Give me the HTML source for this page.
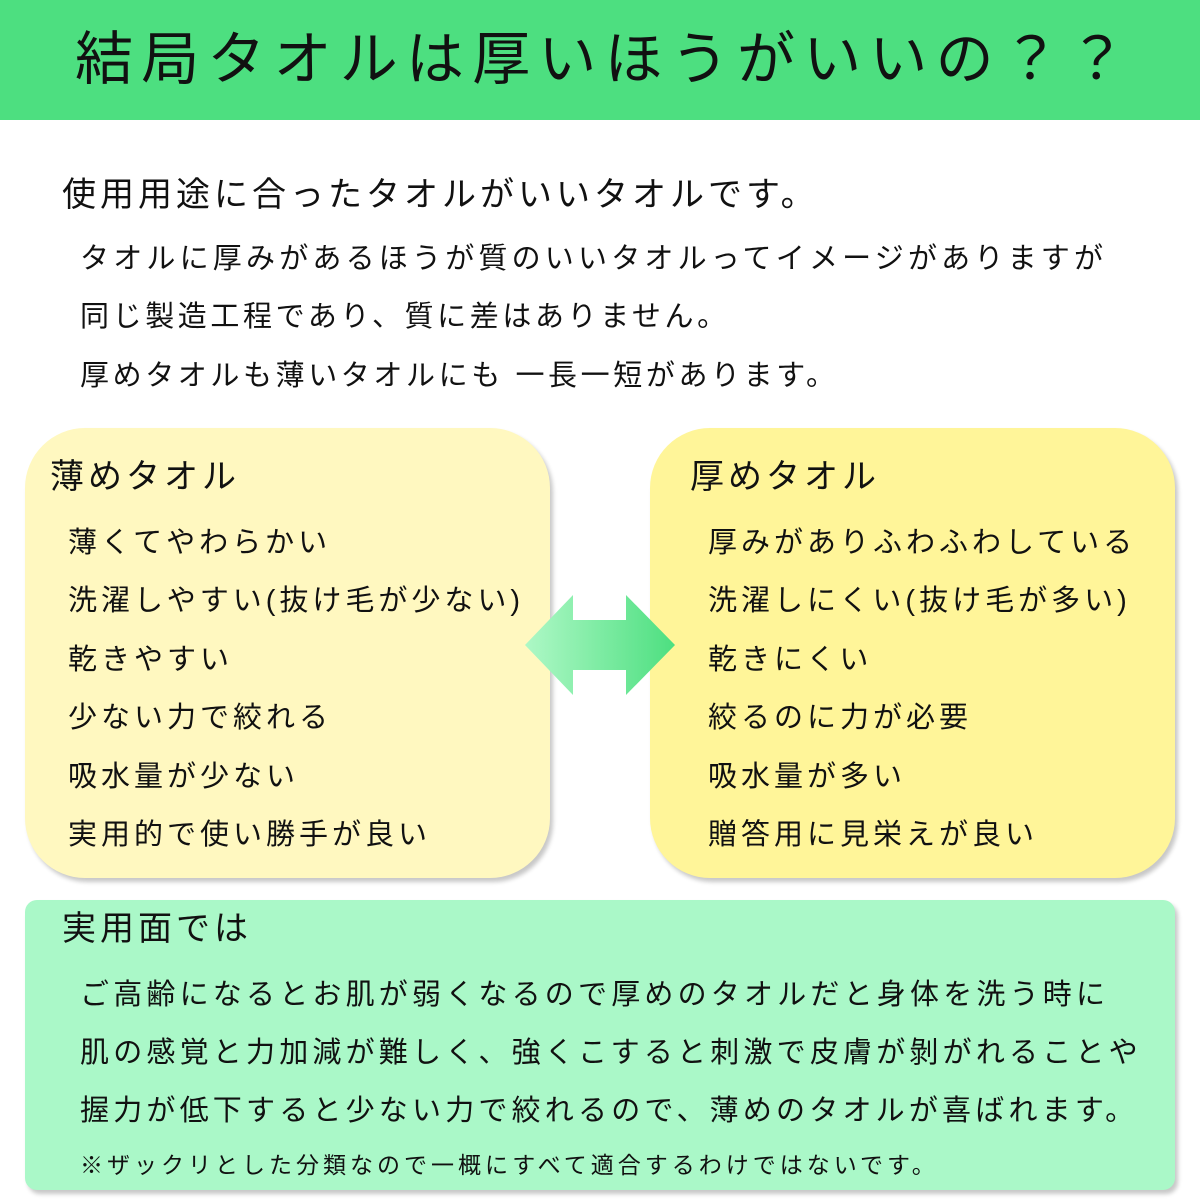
<!DOCTYPE html>
<html><head><meta charset="utf-8"><style>
*{margin:0;padding:0}
body{width:1200px;height:1200px;position:relative;background:#fff;font-family:"Liberation Sans","Noto Sans CJK JP",sans-serif;color:#111;overflow:hidden}
.t{position:absolute;white-space:nowrap;line-height:1}
.box{position:absolute;box-shadow:3px 4px 4px rgba(0,0,0,0.22)}
</style></head><body>
<div style="position:absolute;left:0;top:0;width:1200px;height:120px;background:#4ddf80"></div>
<div class="t" style="left:75px;top:31px;font-size:58px;letter-spacing:8.2px">結局タオルは厚いほうがいいの？？</div>

<div class="t" style="left:62px;top:178px;font-size:34px;letter-spacing:4px">使用用途に合ったタオルがいいタオルです。</div>
<div class="t" style="left:80px;top:245px;font-size:29px;letter-spacing:4.2px">タオルに厚みがあるほうが質のいいタオルってイメージがありますが</div>
<div class="t" style="left:80px;top:303px;font-size:29px;letter-spacing:3.6px">同じ製造工程であり、質に差はありません。</div>
<div class="t" style="left:80px;top:362px;font-size:29px;letter-spacing:3.6px">厚めタオルも薄いタオルにも 一長一短があります。</div>

<div class="box" style="left:25px;top:428px;width:525px;height:450px;border-radius:60px;background:#fff8c0"></div>
<div class="box" style="left:650px;top:428px;width:525px;height:450px;border-radius:60px;background:#fff599"></div>

<div class="t" style="left:50px;top:460px;font-size:34px;letter-spacing:4px">薄めタオル</div>
<div class="t" style="left:68px;top:514px;font-size:29px;letter-spacing:4px;line-height:58.4px">薄くてやわらかい<br>洗濯しやすい(抜け毛が少ない)<br>乾きやすい<br>少ない力で絞れる<br>吸水量が少ない<br>実用的で使い勝手が良い</div>
<div class="t" style="left:690px;top:460px;font-size:34px;letter-spacing:4px">厚めタオル</div>
<div class="t" style="left:708px;top:514px;font-size:29px;letter-spacing:4px;line-height:58.4px">厚みがありふわふわしている<br>洗濯しにくい(抜け毛が多い)<br>乾きにくい<br>絞るのに力が必要<br>吸水量が多い<br>贈答用に見栄えが良い</div>

<svg style="position:absolute;left:0;top:0" width="1200" height="1200">
<defs><linearGradient id="g" x1="0" x2="1"><stop offset="0" stop-color="#aef8c6"/><stop offset="1" stop-color="#4ddf80"/></linearGradient></defs>
<polygon points="525,645 573,595 573,620 626,620 626,595 675,645 626,695 626,670 573,670 573,695" fill="url(#g)"/>
</svg>

<div class="box" style="left:25px;top:900px;width:1150px;height:290px;border-radius:12px;background:#aaf8c8"></div>
<div class="t" style="left:62px;top:912px;font-size:34px;letter-spacing:4px">実用面では</div>
<div class="t" style="left:80px;top:966px;font-size:29px;letter-spacing:4.2px;line-height:58px">ご高齢になるとお肌が弱くなるので厚めのタオルだと身体を洗う時に<br>肌の感覚と力加減が難しく、強くこすると刺激で皮膚が剝がれることや<br>握力が低下すると少ない力で絞れるので、薄めのタオルが喜ばれます。</div>
<div class="t" style="left:80px;top:1154px;font-size:23px;letter-spacing:4px">※ザックリとした分類なので一概にすべて適合するわけではないです。</div>
</body></html>
